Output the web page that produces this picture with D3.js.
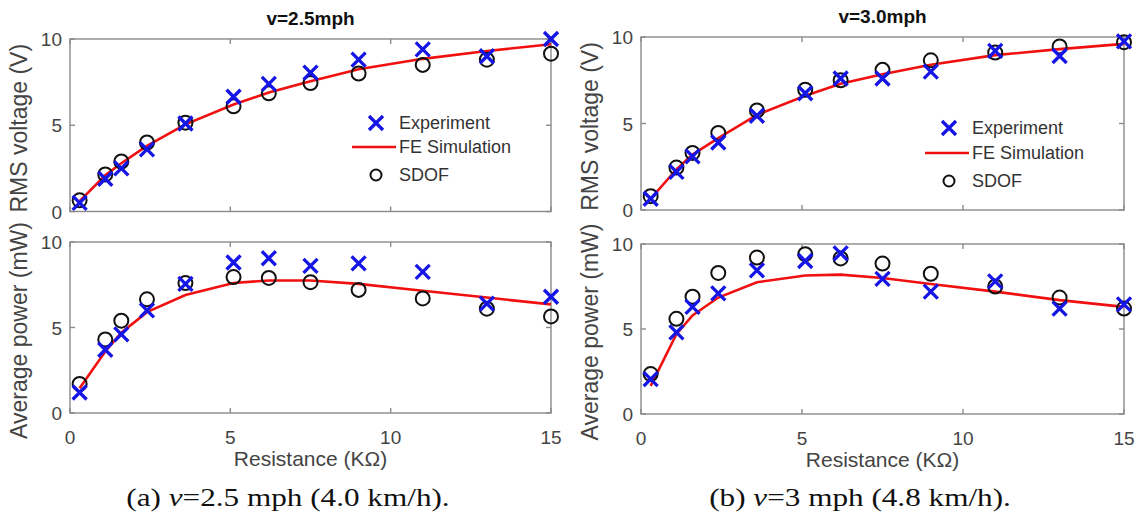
<!DOCTYPE html>
<html>
<head>
<meta charset="utf-8">
<script src="https://cdn.jsdelivr.net/npm/d3@7"></script>
<style>
  body { margin: 0; background: #fff; }
  svg { display: block; }
</style>
</head>
<body>
<div id="chart"></div>
<script>
// resistance values (kOhm) shared by all four panels
const resistance = [0.3, 1.1, 1.6, 2.4, 3.6, 5.1, 6.2, 7.5, 9, 11, 13, 15];
const xTicks = [0, 5, 10, 15];
const yTicks = [0, 5, 10];

// v = 2.5 mph
const expV25  = [0.5, 1.9, 2.5, 3.6, 5.1, 6.65, 7.4, 8.05, 8.8, 9.4, 9.0, 10.0];
const feV25   = [0.6, 2.1, 2.8, 3.8, 5.05, 6.2, 6.9, 7.55, 8.25, 8.85, 9.3, 9.7];
const sdofV25 = [0.65, 2.15, 2.9, 4.0, 5.15, 6.1, 6.85, 7.45, 8.0, 8.5, 8.8, 9.15];
const expP25  = [1.2, 3.7, 4.6, 6.0, 7.55, 8.8, 9.05, 8.6, 8.75, 8.25, 6.4, 6.8];
const feP25   = [1.45, 3.6, 4.7, 5.9, 6.9, 7.6, 7.75, 7.75, 7.55, 7.15, 6.75, 6.35];
const sdofP25 = [1.7, 4.3, 5.4, 6.65, 7.6, 7.95, 7.9, 7.65, 7.2, 6.7, 6.1, 5.65];

// v = 3.0 mph
const expV30  = [0.65, 2.2, 3.1, 3.9, 5.45, 6.75, 7.6, 7.6, 8.0, 9.2, 8.9, 9.75];
const feV30   = [0.65, 2.35, 3.2, 4.15, 5.5, 6.6, 7.3, 7.85, 8.4, 8.95, 9.3, 9.6];
const sdofV30 = [0.8, 2.45, 3.3, 4.45, 5.75, 6.95, 7.5, 8.1, 8.65, 9.1, 9.45, 9.7];
const expP30  = [2.05, 4.8, 6.3, 7.1, 8.45, 9.0, 9.45, 7.95, 7.2, 7.8, 6.2, 6.45];
const feP30   = [1.65, 4.7, 5.8, 6.85, 7.75, 8.15, 8.2, 8.0, 7.65, 7.2, 6.7, 6.3];
const sdofP30 = [2.35, 5.6, 6.9, 8.3, 9.2, 9.4, 9.15, 8.85, 8.25, 7.5, 6.85, 6.2];

const legendLabels = ["Experiment", "FE Simulation", "SDOF"];
const titles = ["v=2.5mph", "v=3.0mph"];
const yLabels = ["RMS voltage (V)", "Average power (mW)"];
const xLabel = "Resistance (K\u03A9)";

const W = 1139, H = 522;
const font = "'Liberation Sans', Arial, sans-serif";
const axisColor = "#8a8a8a", textColor = "#444";

const svg = d3.select("#chart").append("svg")
    .attr("width", W).attr("height", H);

function drawAxes(box, exp, fe, sdof, opts) {
    const x = d3.scaleLinear().domain([0, 15]).range([box.x0, box.x1]);
    const y = d3.scaleLinear().domain([0, 10]).range([box.y1, box.y0]);
    const g = svg.append("g");

    // box and inner ticks (matlab style)
    g.append("rect")
        .attr("x", box.x0).attr("y", box.y0)
        .attr("width", box.x1 - box.x0).attr("height", box.y1 - box.y0)
        .attr("fill", "none").attr("stroke", axisColor).attr("stroke-width", 1.4);

    const tl = 5;
    xTicks.forEach(t => {
        [[box.y1, -tl], [box.y0, tl]].forEach(([yy, d]) => {
            g.append("line").attr("x1", x(t)).attr("x2", x(t))
                .attr("y1", yy).attr("y2", yy + d)
                .attr("stroke", axisColor).attr("stroke-width", 1.4);
        });
    });
    yTicks.forEach(t => {
        [[box.x0, tl], [box.x1, -tl]].forEach(([xx, d]) => {
            g.append("line").attr("x1", xx).attr("x2", xx + d)
                .attr("y1", y(t)).attr("y2", y(t))
                .attr("stroke", axisColor).attr("stroke-width", 1.4);
        });
    });

    // y tick labels
    g.selectAll(".ytl").data(yTicks).join("text")
        .attr("x", box.x0 - 8).attr("y", d => y(d) + 7)
        .attr("text-anchor", "end")
        .attr("font-family", font).attr("font-size", 19).attr("fill", textColor)
        .text(d => d);

    if (opts.xTickLabels) {
        g.selectAll(".xtl").data(xTicks).join("text")
            .attr("x", d => x(d)).attr("y", box.y1 + 31)
            .attr("text-anchor", "middle")
            .attr("font-family", font).attr("font-size", 19).attr("fill", textColor)
            .text(d => d);
        g.append("text")
            .attr("x", (box.x0 + box.x1) / 2).attr("y", box.y1 + 53)
            .attr("text-anchor", "middle")
            .attr("font-family", font).attr("font-size", 21).attr("fill", textColor)
            .text(xLabel);
    }

    g.append("text")
        .attr("transform", `translate(${box.x0 - 43},${(box.y0 + box.y1) / 2 + 3}) rotate(-90)`)
        .attr("text-anchor", "middle")
        .attr("font-family", font).attr("font-size", 23).attr("fill", textColor)
        .text(opts.yLabel);

    if (opts.title) {
        g.append("text")
            .attr("x", (box.x0 + box.x1) / 2).attr("y", box.y0 - 14)
            .attr("text-anchor", "middle")
            .attr("font-family", font).attr("font-size", 19).attr("font-weight", "bold")
            .attr("fill", "#111")
            .text(opts.title);
    }

    const pts = resistance.map((r, i) => ({ r, e: exp[i], f: fe[i], s: sdof[i] }));

    // FE simulation line
    g.append("path")
        .datum(pts)
        .attr("fill", "none").attr("stroke", "#f01010").attr("stroke-width", 2.6)
        .attr("d", d3.line().x(d => x(d.r)).y(d => y(d.f)));

    // SDOF circles
    g.selectAll(".sdof").data(pts).join("circle")
        .attr("cx", d => x(d.r)).attr("cy", d => y(d.s)).attr("r", 7)
        .attr("fill", "none").attr("stroke", "#111").attr("stroke-width", 2);

    // experiment crosses
    const s = 7;
    g.selectAll(".exp").data(pts).join("path")
        .attr("transform", d => `translate(${x(d.r)},${y(d.e)})`)
        .attr("d", `M${-s},${-s}L${s},${s}M${-s},${s}L${s},${-s}`)
        .attr("stroke", "#1515e6").attr("stroke-width", 3.3).attr("fill", "none");

    if (opts.legend) {
        const lx = box.x1 - 175, rows = opts.legend;
        const lg = g.append("g");
        lg.append("path")
            .attr("transform", `translate(${lx},${rows[0]})`)
            .attr("d", `M${-s},${-s}L${s},${s}M${-s},${s}L${s},${-s}`)
            .attr("stroke", "#1515e6").attr("stroke-width", 3.3);
        lg.append("line")
            .attr("x1", lx - 24).attr("x2", lx + 20)
            .attr("y1", rows[1]).attr("y2", rows[1])
            .attr("stroke", "#f01010").attr("stroke-width", 2.6);
        lg.append("circle")
            .attr("cx", lx).attr("cy", rows[2]).attr("r", 5.5)
            .attr("fill", "none").attr("stroke", "#111").attr("stroke-width", 2);
        legendLabels.forEach((t, i) => {
            lg.append("text")
                .attr("x", lx + 23).attr("y", rows[i] + 6)
                .attr("font-family", font).attr("font-size", 18).attr("fill", "#333")
                .text(t);
        });
    }
}

// left: 2.5 mph
drawAxes({ x0: 70, x1: 551, y0: 39, y1: 211.5 }, expV25, feV25, sdofV25,
    { yLabel: yLabels[0], title: titles[0], legend: [123, 147, 175] });
drawAxes({ x0: 70, x1: 551, y0: 242, y1: 413 }, expP25, feP25, sdofP25,
    { yLabel: yLabels[1], xTickLabels: true });

// right: 3.0 mph
drawAxes({ x0: 641, x1: 1124, y0: 37, y1: 210 }, expV30, feV30, sdofV30,
    { yLabel: yLabels[0], title: titles[1], legend: [128, 153, 181] });
drawAxes({ x0: 641, x1: 1124, y0: 244, y1: 414 }, expP30, feP30, sdofP30,
    { yLabel: yLabels[1], xTickLabels: true });

// sub-figure captions (serif, stretched a little to mimic the latex font)
const captions = [
    { x: 288, parts: ["(a) ", "v", "=2.5 mph (4.0 km/h)."] },
    { x: 860, parts: ["(b) ", "v", "=3 mph (4.8 km/h)."] }
];
const stretch = 1.2;
captions.forEach(c => {
    const t = svg.append("text")
        .attr("transform", `translate(${c.x},506) scale(${stretch},1)`)
        .attr("text-anchor", "middle")
        .attr("font-family", "'Liberation Serif', 'DejaVu Serif', serif")
        .attr("font-size", 26).attr("fill", "#111");
    c.parts.forEach((p, i) => {
        t.append("tspan").attr("font-style", i === 1 ? "italic" : "normal").text(p);
    });
});
</script>
</body>
</html>
